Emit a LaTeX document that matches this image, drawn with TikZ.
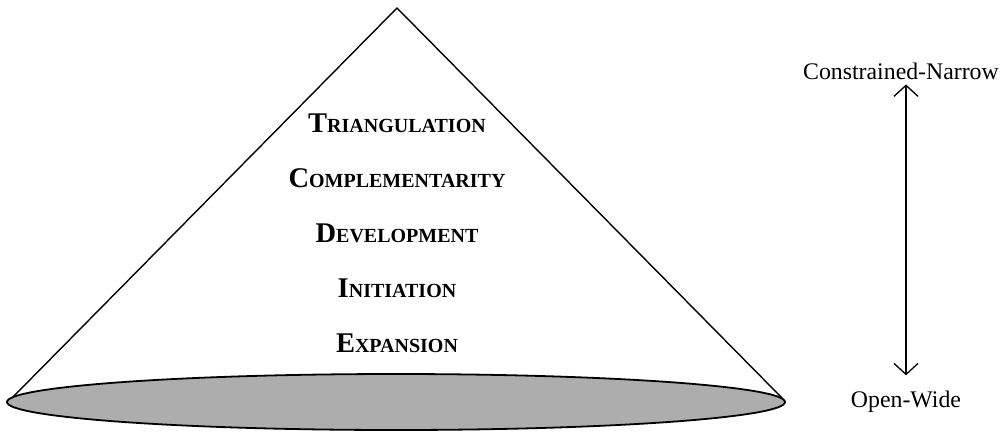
\documentclass[tikz,border=0pt]{standalone}
\usepackage{fontspec}
\setmainfont{Liberation Serif}
\usetikzlibrary{arrows.meta}
\newcommand{\capsc}[2]{{\fontsize{28.5}{28.5}\selectfont\bfseries #1}{\fontsize{20}{20}\selectfont\bfseries #2}}

\begin{document}
\begin{tikzpicture}[x=1pt,y=-1pt,
		level/.style={anchor=base,inner sep=0pt},
		scalelabel/.style={anchor=base,inner sep=0pt,font=\fontsize{23.8}{23.8}\selectfont},
		barb/.tip={Straight Barb[length=11pt,width=24pt,line width=1.3pt]}]
		\useasboundingbox (0,0) rectangle (1006,432);

		\draw[line width=1.8pt,fill=black!32] (396,402) ellipse [x radius=389, y radius=28];
		\coordinate (apex) at (397,8);
		\coordinate (baseleft) at (12,398);
		\coordinate (baseright) at (782,398);
		\draw[line width=1.4pt,line join=miter] (baseleft) -- (apex) -- (baseright);

		\node[level] (triangulation) at (397,132) {\capsc{T}{RIANGULATION}};
		\node[level] (complementarity) at (397,187) {\capsc{C}{OMPLEMENTARITY}};
		\node[level] (development) at (397,242) {\capsc{D}{EVELOPMENT}};
		\node[level] (initiation) at (397,297) {\capsc{I}{NITIATION}};
		\node[level] (expansion) at (397,352) {\capsc{E}{XPANSION}};

		\node[scalelabel] (narrow) at (901,79) {Constrained-Narrow};
		\node[scalelabel] (wide) at (906,407) {Open-Wide};
		\draw[barb-barb,line width=1.3pt,shorten <=5pt,shorten >=15pt] (narrow.south -| wide) -- (wide.north);
	\end{tikzpicture}
\end{document}
